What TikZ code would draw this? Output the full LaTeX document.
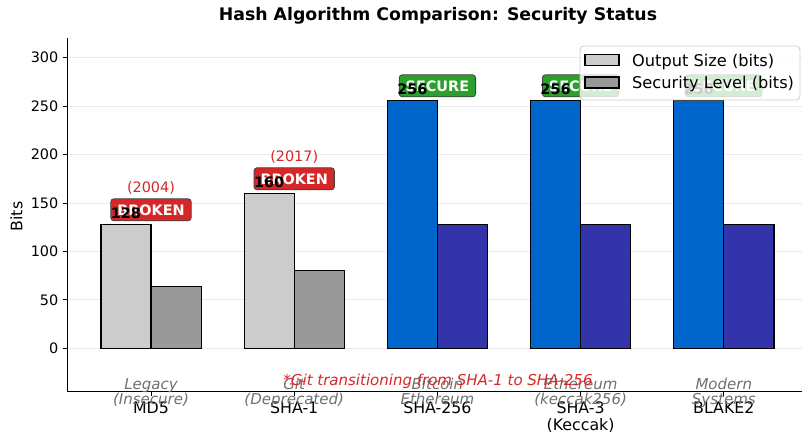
\documentclass[tikz,border=0pt]{standalone}
\usepackage{fontspec}
\setmainfont{DejaVu Sans}
\definecolor{oldgray}{HTML}{CCCCCC}
\definecolor{oldsec}{HTML}{999999}
\definecolor{modblue}{HTML}{0066CC}
\definecolor{modsec}{HTML}{3333AA}
\definecolor{warnred}{HTML}{D62728}
\definecolor{okgreen}{HTML}{2CA02C}
\definecolor{gridcol}{HTML}{EBEBEB}
\definecolor{desccol}{HTML}{707070}
\tikzset{
  gridline/.style={draw=gridcol, line width=0.8pt},
  barstyle/.style={draw=black, line width=1.2pt},
  axisline/.style={draw=black, line width=0.9pt},
  ticklabel/.style={font=\fontsize{14.4}{17}\selectfont, inner sep=0pt},
  catlabel/.style={font=\fontsize{15.8}{19}\selectfont, inner sep=0pt, anchor=base},
  desclabel/.style={font=\fontsize{15}{17}\selectfont\itshape, text=desccol, inner sep=0pt, anchor=base},
  vallabel/.style={font=\fontsize{14.4}{17}\selectfont\bfseries, inner sep=0pt, anchor=base},
  yearlabel/.style={font=\fontsize{14.4}{17}\selectfont, text=warnred, inner sep=0pt},
  badge/.style={rounded corners=3pt, draw=black!75, line width=0.8pt, text=white,
    font=\fontsize{14.4}{17}\selectfont\bfseries, inner xsep=6.5pt, minimum height=22pt},
  legendtext/.style={font=\fontsize{16.2}{19}\selectfont, inner sep=0pt, anchor=base west},
}
\begin{document}
\begin{tikzpicture}[x=1pt,y=-1pt]
\useasboundingbox (0,0) rectangle (802,433);

% horizontal grid and y ticks
\foreach \v in {0,50,...,300} {
  \pgfmathsetmacro\yy{348.3-0.9687*\v}
  \draw[gridline] (67.3,\yy) -- (802,\yy);
  \draw[axisline, line width=0.8pt] (63,\yy) -- (67.3,\yy);
  \node[ticklabel, anchor=east] (yt\v) at (58.5,\yy) {\v};
}

% bars: output size (left) and security level (right)
\foreach \c/\o/\s/\fo/\fsc in {151/128/64/oldgray/oldsec, 294.2/160/80/oldgray/oldsec,
    437.4/256/128/modblue/modsec, 580.6/256/128/modblue/modsec, 723.8/256/128/modblue/modsec} {
  \pgfmathsetmacro\yo{348.3-0.9687*\o}
  \pgfmathsetmacro\ys{348.3-0.9687*\s}
  \draw[barstyle, fill=\fo] (\c-50.1,348.3) rectangle (\c,\yo);
  \draw[barstyle, fill=\fsc] (\c,348.3) rectangle (\c+50.1,\ys);
}

% status badges
\node[badge, fill=warnred] (bmd5) at (151,209.8) {BROKEN};
\node[badge, fill=warnred] (bsha1) at (294.2,178.8) {BROKEN};
\node[badge, fill=okgreen] (bsha256) at (437.4,85.8) {SECURE};
\node[badge, fill=okgreen] (bsha3) at (580.6,85.8) {SECURE};
\node[badge, fill=okgreen] (bblake) at (723.8,85.8) {SECURE};

% bar values
\node[vallabel] (vmd5) at (125.9,218.3) {128};
\node[vallabel] (vsha1) at (269.1,187.3) {160};
\node[vallabel] (vsha256) at (412.3,94.3) {256};
\node[vallabel] (vsha3) at (555.5,94.3) {256};
\node[vallabel] (vblake) at (698.7,94.3) {256};

% years of the breaks
\node[yearlabel] (ymd5) at (151,188) {(2004)};
\node[yearlabel] (ysha1) at (294.2,157) {(2017)};

% axes
\draw[axisline] (67.3,38.3) -- (67.3,391.7) -- (802,391.7);
\foreach \c in {151,294.2,437.4,580.6,723.8}
  \draw[axisline, line width=0.8pt] (\c,391.7) -- (\c,395.5);

% category labels
\node[catlabel] (cmd5) at (151,413.3) {MD5};
\node[catlabel] (csha1) at (294.2,413.3) {SHA-1};
\node[catlabel] (csha256) at (437.4,413.3) {SHA-256};
\node[catlabel] (csha3) at (580.6,413.3) {SHA-3};
\node[catlabel] (csha3b) at (580.6,430) {(Keccak)};
\node[catlabel] (cblake) at (723.8,413.3) {BLAKE2};

% usage notes
\node[desclabel] (dmd5a) at (151,389.5) {Legacy};
\node[desclabel] (dmd5b) at (151,404) {(Insecure)};
\node[desclabel] (dsha1a) at (294.2,389.5) {Git};
\node[desclabel] (dsha1b) at (294.2,404) {(Deprecated)};
\node[desclabel] (dsha256a) at (437.4,389.5) {Bitcoin};
\node[desclabel] (dsha256b) at (437.4,404) {Ethereum};
\node[desclabel] (dsha3a) at (580.6,389.5) {Ethereum};
\node[desclabel] (dsha3b) at (580.6,404) {(keccak256)};
\node[desclabel] (dblakea) at (723.8,389.5) {Modern};
\node[desclabel] (dblakeb) at (723.8,404) {Systems};

\node[desclabel, text=warnred] (gitnote) at (438,385) {*Git transitioning from SHA-1 to SHA-256};

% axis label and title
\node[font=\fontsize{15.8}{19}\selectfont, rotate=90, inner sep=0pt] (ylab) at (16.5,216.5) {Bits};
\node[font=\fontsize{17.3}{20}\selectfont\bfseries, inner sep=0pt, anchor=base] (title) at (438,21) {Hash Algorithm Comparison: Security Status};

% legend
\draw[rounded corners=4pt, fill=white, fill opacity=0.8, draw=black!20, line width=0.8pt] (580,46) rectangle (800,100);
\draw[barstyle, fill=oldgray] (585,54.5) rectangle (619,65.5);
\draw[barstyle, fill=oldsec] (585,77) rectangle (619,88);
\node[legendtext] (lout) at (632,66.5) {Output Size (bits)};
\node[legendtext] (lsec) at (632,89) {Security Level (bits)};
\end{tikzpicture}
\end{document}
